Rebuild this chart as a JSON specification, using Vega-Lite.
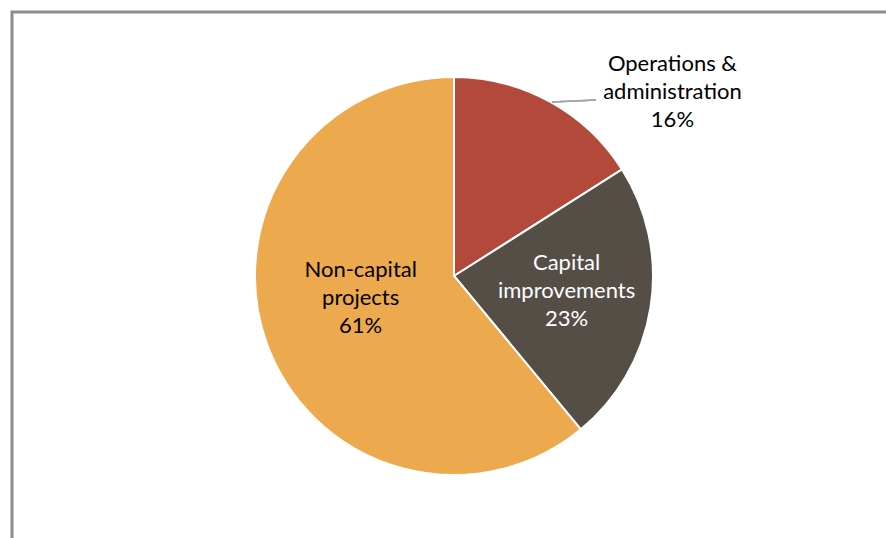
{
  "$schema": "https://vega.github.io/schema/vega-lite/v6.json",
  "width": 884,
  "height": 528,
  "autosize": {"type": "none"},
  "padding": {"left": 12, "top": 12, "right": 0, "bottom": 0},
  "background": "#ffffff",
  "config": {
    "view": {"stroke": "#8c8c8c", "strokeWidth": 3},
    "text": {"font": "Lato", "fontSize": 22, "lineHeight": 28}
  },
  "data": {
    "values": [
      {"cat": "Operations & administration", "value": 16, "ord": 1, "label": "Operations &\nadministration\n16%"},
      {"cat": "Capital improvements", "value": 23, "ord": 2, "label": "Capital\nimprovements\n23%"},
      {"cat": "Non-capital projects", "value": 61, "ord": 3, "label": "Non-capital\nprojects\n61%"}
    ]
  },
  "layer": [
    {
      "mark": {"type": "arc", "outerRadius": 199, "stroke": "#ffffff", "strokeWidth": 2},
      "encoding": {
        "theta": {"field": "value", "type": "quantitative", "stack": true},
        "order": {"field": "ord", "type": "quantitative"},
        "color": {
          "field": "cat",
          "type": "nominal",
          "scale": {
            "domain": ["Operations & administration", "Capital improvements", "Non-capital projects"],
            "range": ["#b3493a", "#554e47", "#eda94d"]
          },
          "legend": null
        }
      }
    },
    {
      "mark": {"type": "text", "radius": 114, "dx": 0, "dy": -31, "color": "#ffffff", "lineBreak": "\n", "align": "center", "baseline": "middle"},
      "encoding": {
        "theta": {"field": "value", "type": "quantitative", "stack": true},
        "order": {"field": "ord", "type": "quantitative"},
        "text": {"condition": {"test": "datum.cat === 'Capital improvements'", "field": "label"}, "value": ""}
      }
    },
    {
      "mark": {"type": "text", "radius": 96, "dx": -3, "dy": -39, "color": "#000000", "lineBreak": "\n", "align": "center", "baseline": "middle"},
      "encoding": {
        "theta": {"field": "value", "type": "quantitative", "stack": true},
        "order": {"field": "ord", "type": "quantitative"},
        "text": {"condition": {"test": "datum.cat === 'Non-capital projects'", "field": "label"}, "value": ""}
      }
    },
    {
      "mark": {"type": "text", "radius": 250, "dx": 98, "dy": 7, "color": "#000000", "lineBreak": "\n", "align": "center", "baseline": "middle"},
      "encoding": {
        "theta": {"field": "value", "type": "quantitative", "stack": true},
        "order": {"field": "ord", "type": "quantitative"},
        "text": {"condition": {"test": "datum.cat === 'Operations & administration'", "field": "label"}, "value": ""}
      }
    },
    {
      "mark": {"type": "rule", "color": "#a6a6a6", "strokeWidth": 1.5},
      "encoding": {
        "x": {"datum": 98, "type": "quantitative", "scale": {"domain": [-442, 442]}, "axis": null},
        "x2": {"datum": 142},
        "y": {"datum": 174, "type": "quantitative", "scale": {"domain": [-264, 264]}, "axis": null},
        "y2": {"datum": 176}
      }
    }
  ]
}
